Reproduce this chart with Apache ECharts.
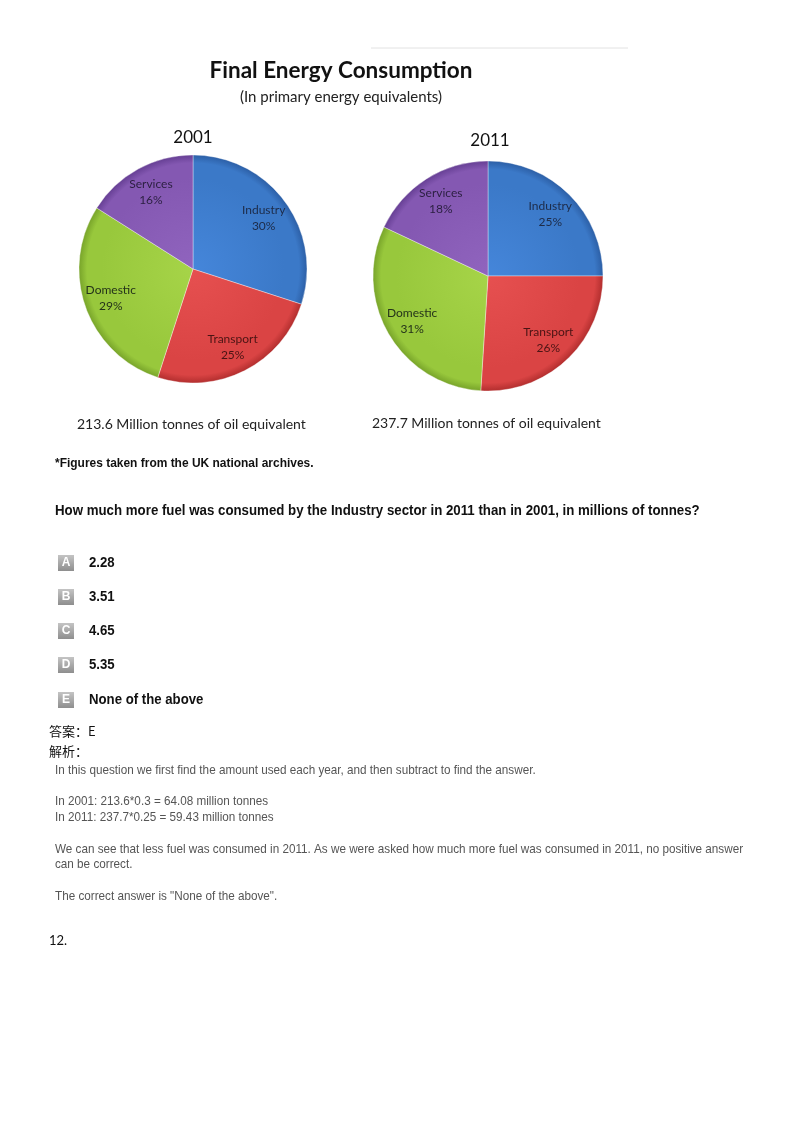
<!DOCTYPE html>
<html>
<head>
<meta charset="utf-8">
<script src="https://cdn.jsdelivr.net/npm/echarts@6/dist/echarts.min.js"></script>
<style>
html,body{margin:0;padding:0;background:#fff;}
#c{width:800px;height:1132px;}
</style>
</head>
<body>
<div id="c"></div>
<script>
// ---- data ----
var sectors = ['Industry', 'Transport', 'Domestic', 'Services'];
var share2001 = [30, 25, 29, 16];
var share2011 = [25, 26, 31, 18];
var years = ['2001', '2011'];
var totals = ['213.6 Million tonnes of oil equivalent', '237.7 Million tonnes of oil equivalent'];
var optionLetters = ['A', 'B', 'C', 'D', 'E'];
var optionTexts = ['2.28', '3.51', '4.65', '5.35', 'None of the above'];
var explanation = [
  'In this question we first find the amount used each year, and then subtract to find the answer.',
  '',
  'In 2001: 213.6*0.3 = 64.08 million tonnes',
  'In 2011: 237.7*0.25 = 59.43 million tonnes',
  '',
  'We can see that less fuel was consumed in 2011. As we were asked how much more fuel was consumed in 2011, no positive answer',
  'can be correct.',
  '',
  'The correct answer is "None of the above".'
];

// ---- styling ----
var baseColors = [
  ['#4586da', '#3b79c8', '#2c5fa6'],
  ['#e65050', '#da4444', '#b22e2e'],
  ['#a6d448', '#98c83c', '#78a42a'],
  ['#9064be', '#8458b2', '#663f94']
];
var labelColors = ['#1d2b48', '#4a1414', '#24331a', '#2b1f40'];
var pies = [
  {cx: 193, cy: 269, r: 114},
  {cx: 488, cy: 276, r: 115}
];
var pieFont = 'Lato, "Open Sans", sans-serif';

function grad(p, i) {
  return {
    type: 'radial', x: p.cx, y: p.cy, r: p.r, global: true,
    colorStops: [
      {offset: 0, color: baseColors[i][0]},
      {offset: 0.8, color: baseColors[i][1]},
      {offset: 0.93, color: baseColors[i][1]},
      {offset: 1, color: baseColors[i][2]}
    ]
  };
}

var series = [];
[share2001, share2011].forEach(function (vals, k) {
  var p = pies[k];
  var data = sectors.map(function (s, i) {
    return {name: s, value: vals[i], itemStyle: {color: grad(p, i)}};
  });
  series.push({
    type: 'pie', center: [p.cx, p.cy], radius: [0, p.r],
    startAngle: 90, clockwise: true, silent: true, animation: false,
    label: {show: false}, labelLine: {show: false},
    itemStyle: {borderColor: 'rgba(255,255,255,0.45)', borderWidth: 0.8},
    data: data
  });
  // label carrier (transparent) to place labels at ~0.74 R
  series.push({
    type: 'pie', center: [p.cx, p.cy], radius: [0, p.r * 1.48],
    startAngle: 90, clockwise: true, silent: true, animation: false, z: 5,
    itemStyle: {color: 'rgba(0,0,0,0)'},
    label: {
      show: true, position: 'inside',
      formatter: function (d) { return d.name + '\n' + d.value + '%'; },
      fontFamily: pieFont, fontSize: 12, lineHeight: 16,
      color: '#222'
    },
    labelLine: {show: false},
    data: sectors.map(function (s, i) {
      return {name: s, value: vals[i], label: {color: labelColors[i]}};
    })
  });
});

var g = [];
// top gray rule
g.push({type: 'line', shape: {x1: 371, y1: 48, x2: 628, y2: 48}, style: {stroke: '#e2e2e2', lineWidth: 1}});
// titles
g.push({type: 'text', x: 341, y: 71, style: {text: 'Final Energy Consumption', font: 'bold 22.5px Lato, "Open Sans", sans-serif', fill: '#111', align: 'center', verticalAlign: 'middle'}});
g.push({type: 'text', x: 341, y: 97, style: {text: '(In primary energy equivalents)', font: '15px Lato, "Open Sans", sans-serif', fill: '#222', align: 'center', verticalAlign: 'middle'}});
// year titles
g.push({type: 'text', x: 193, y: 138, style: {text: years[0], font: '17px Lato, "Open Sans", sans-serif', fill: '#111', align: 'center', verticalAlign: 'middle'}});
g.push({type: 'text', x: 490, y: 141, style: {text: years[1], font: '17px Lato, "Open Sans", sans-serif', fill: '#111', align: 'center', verticalAlign: 'middle'}});
// totals
g.push({type: 'text', x: 77, y: 424, style: {text: totals[0], font: '14px Lato, "Open Sans", sans-serif', fill: '#222', align: 'left', verticalAlign: 'middle'}});
g.push({type: 'text', x: 372, y: 423, style: {text: totals[1], font: '14px Lato, "Open Sans", sans-serif', fill: '#222', align: 'left', verticalAlign: 'middle'}});

var narrow = '"Liberation Sans Narrow", "Arial Narrow", "Liberation Sans", Arial, sans-serif';
function ntext(x, y, t, size, weight, fill, sx) {
  return {type: 'text', x: x, y: y, scaleX: sx, originX: 0,
    style: {text: t, font: weight + ' ' + size + 'px ' + narrow, fill: fill, align: 'left', verticalAlign: 'middle'}};
}
g.push(ntext(55, 463, '*Figures taken from the UK national archives.', 13, 'bold', '#111', 0.92));
g.push(ntext(55, 511, 'How much more fuel was consumed by the Industry sector in 2011 than in 2001, in millions of tonnes?', 15, 'bold', '#111', 0.885));

var optY = [563, 597, 631, 665, 700];
optionLetters.forEach(function (L, i) {
  var y = optY[i];
  g.push({type: 'rect', shape: {x: 58, y: y - 8, width: 16, height: 16},
    style: {fill: {type: 'linear', x: 0, y: 0, x2: 0, y2: 1, colorStops: [{offset: 0, color: '#c4c4c4'}, {offset: 1, color: '#8e8e8e'}]}}});
  g.push({type: 'text', x: 66, y: y, style: {text: L, font: 'bold 12px ' + narrow, fill: '#fff', align: 'center', verticalAlign: 'middle'}});
  g.push(ntext(89, y, optionTexts[i], 15, 'bold', '#111', 0.88));
});

var cjk = '"Noto Sans CJK SC", sans-serif';
g.push({type: 'text', x: 49, y: 731, style: {text: '答案：E', font: '13px ' + cjk, fill: '#111', align: 'left', verticalAlign: 'middle'}});
g.push({type: 'text', x: 49, y: 751, style: {text: '解析：', font: '13px ' + cjk, fill: '#111', align: 'left', verticalAlign: 'middle'}});

var exY = [770, 0, 801, 817, 0, 849, 864, 0, 896];
explanation.forEach(function (t, i) {
  if (!t) return;
  g.push(ntext(55, exY[i], t, 13, 'normal', '#555', 0.9));
});
g.push({type: 'text', x: 49, y: 941, style: {text: '12.', font: '13px Lato, "Open Sans", sans-serif', fill: '#111', align: 'left', verticalAlign: 'middle'}});

var chart = echarts.init(document.getElementById('c'), null, {renderer: 'canvas'});
chart.setOption({
  backgroundColor: '#ffffff',
  animation: false,
  series: series,
  graphic: g
});
</script>
</body>
</html>
